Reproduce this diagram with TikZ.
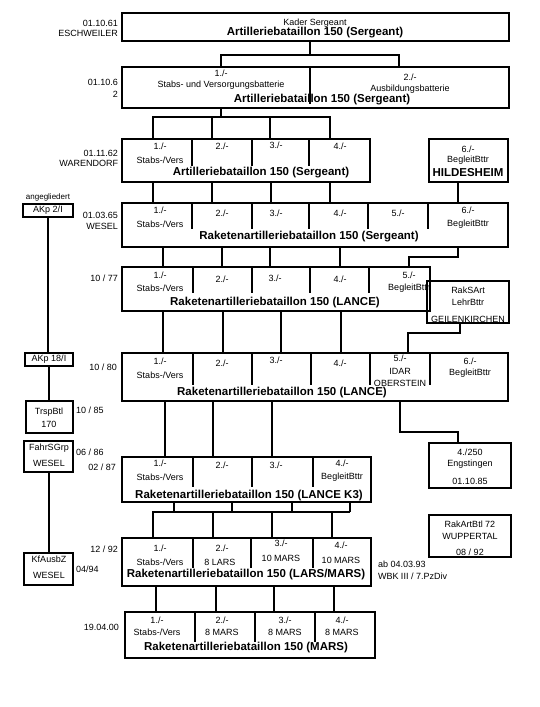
\documentclass[tikz,border=0pt]{standalone}
\usepackage{fontspec}
\setmainfont{Liberation Sans}
\begin{document}
\begin{tikzpicture}[x=1pt, y=-1pt, line width=2pt,
    box/.style={draw, line width=2pt, outer sep=0pt, inner sep=0pt, anchor=north west},
    lbl/.style={font=\fontsize{9}{10}\selectfont, inner sep=0pt},
    small/.style={font=\fontsize{8}{9}\selectfont, inner sep=0pt},
    ttl/.style={font=\fontsize{11.5}{12}\selectfont\bfseries, inner sep=0pt},
    rlbl/.style={lbl, anchor=east},
    llbl/.style={lbl, anchor=west}]
  \useasboundingbox (0,0) rectangle (540,707);
  %boxes
  \node[box, minimum width=387pt, minimum height=28pt] (b1) at (122,13) {};
  \node[box, minimum width=387pt, minimum height=41pt] (b2) at (122,67) {};
  \node[box, minimum width=248pt, minimum height=43pt] (b3) at (122,139) {};
  \node[box, minimum width=79pt, minimum height=43pt] (hild) at (429,139) {};
  \node[box, minimum width=386pt, minimum height=44pt] (b4) at (122,203) {};
  \node[box, minimum width=308pt, minimum height=44pt] (b5) at (122,267) {};
  \node[box, minimum width=82pt, minimum height=42pt] (rak) at (427,281) {};
  \node[box, minimum width=386pt, minimum height=48pt] (b6) at (122,353) {};
  \node[box, minimum width=249pt, minimum height=45pt] (b7) at (122,457) {};
  \node[box, minimum width=82pt, minimum height=45pt] (eng) at (429,443) {};
  \node[box, minimum width=249pt, minimum height=48pt] (b8) at (122,538) {};
  \node[box, minimum width=82pt, minimum height=42pt] (wup) at (429,515) {};
  \node[box, minimum width=250pt, minimum height=46pt] (b9) at (125,612) {};
  \node[box, minimum width=50pt, minimum height=13pt] (akpa) at (23,204) {};
  \node[box, minimum width=48pt, minimum height=13pt] (akpb) at (25,353) {};
  \node[box, minimum width=47pt, minimum height=32pt] (trsp) at (26,401) {};
  \node[box, minimum width=49pt, minimum height=31pt] (fahr) at (24,441) {};
  \node[box, minimum width=49pt, minimum height=32pt] (kf) at (24,553) {};
  %dividers
  \draw (310,0 |- b2.north) -- (310,104);
  \foreach \x in {192,252,309} \draw (\x,0 |- b3.north) -- (\x,166);
  \foreach \x in {192,252,309,368,428} \draw (\x,0 |- b4.north) -- (\x,229);
  \foreach \x in {193,252,310,369} \draw (\x,0 |- b5.north) -- (\x,293);
  \foreach \x in {193,252,311,370,430} \draw (\x,0 |- b6.north) -- (\x,385);
  \foreach \x in {193,252,313} \draw (\x,0 |- b7.north) -- (\x,487);
  \foreach \x in {193,251,313} \draw (\x,0 |- b8.north) -- (\x,568);
  \foreach \x in {195,255,315} \draw (\x,0 |- b9.north) -- (\x,642);
  %1961
  \node[lbl] (b1a) at (315,23) {Kader Sergeant};
  \node[ttl] (b1t) at (315,33) {Artilleriebataillon 150 (Sergeant)};
  \node[rlbl] (d1a) at (119,23) {01.10.61};
  \node[rlbl] (d1b) at (119,33) {ESCHWEILER};
  %1962
  \node[lbl] (b2a) at (221,73) {1./-};
  \node[lbl] (b2b) at (221,85) {Stabs- und Versorgungsbatterie};
  \node[lbl] (b2c) at (410,77) {2./-};
  \node[lbl] (b2d) at (410,89) {Ausbildungsbatterie};
  \node[ttl] (b2t) at (322,100) {Artilleriebataillon 150 (Sergeant)};
  \node[rlbl] (d2a) at (119,82) {01.10.6};
  \node[rlbl] (d2b) at (119,94) {2};
  %WARENDORF
  \node[lbl] (b3a) at (160,146) {1./-};
  \node[lbl] (b3b) at (160,160) {Stabs-/Vers};
  \node[lbl] (b3c) at (222,146) {2./-};
  \node[lbl] (b3d) at (276,145) {3./-};
  \node[lbl] (b3e) at (340,146) {4./-};
  \node[ttl] (b3t) at (261,173) {Artilleriebataillon 150 (Sergeant)};
  \node[rlbl] (d3a) at (119,153) {01.11.62};
  \node[rlbl] (d3b) at (119,163) {WARENDORF};
  \node[lbl] (hilda) at (468,149) {6./-};
  \node[lbl] (hildb) at (468,160) {BegleitBttr};
  \node[ttl] (hildt) at (468,173) {HILDESHEIM};
  %WESEL 1965
  \node[lbl] (b4a) at (160,210) {1./-};
  \node[lbl] (b4b) at (160,224) {Stabs-/Vers};
  \node[lbl] (b4c) at (222,213) {2./-};
  \node[lbl] (b4d) at (276,213) {3./-};
  \node[lbl] (b4e) at (340,213) {4./-};
  \node[lbl] (b4f) at (398,213) {5./-};
  \node[lbl] (b4g) at (468,210) {6./-};
  \node[lbl] (b4h) at (468,224) {BegleitBttr};
  \node[ttl] (b4t) at (309,237) {Raketenartilleriebataillon 150 (Sergeant)};
  \node[rlbl] (d4a) at (119,215) {01.03.65};
  \node[rlbl] (d4b) at (119,226) {WESEL};
  \node[small] (akpx) at (48,197) {angegliedert};
  \node[lbl] (akpat) at (48,210) {AKp 2/I};
  %LANCE 1977
  \node[lbl] (b5a) at (160,275) {1./-};
  \node[lbl] (b5b) at (160,288) {Stabs-/Vers};
  \node[lbl] (b5c) at (222,279) {2./-};
  \node[lbl] (b5d) at (275,278) {3./-};
  \node[lbl] (b5e) at (340,279) {4./-};
  \node[lbl] (b5f) at (409,275) {5./-};
  \node[lbl] (b5g) at (409,288) {BegleitBttr};
  \node[ttl] (b5t) at (275,303) {Raketenartilleriebataillon 150 (LANCE)};
  \node[rlbl] (d5a) at (119,278) {10 / 77};
  \node[lbl] (raka) at (468,290) {RakSArt};
  \node[lbl] (rakb) at (468,302) {LehrBttr};
  \node[lbl] (rakc) at (468,319) {GEILENKIRCHEN};
  %LANCE 1980
  \node[lbl] (b6a) at (160,361) {1./-};
  \node[lbl] (b6b) at (160,375) {Stabs-/Vers};
  \node[lbl] (b6c) at (222,363) {2./-};
  \node[lbl] (b6d) at (276,360) {3./-};
  \node[lbl] (b6e) at (340,363) {4./-};
  \node[lbl] (b6f) at (400,358) {5./-};
  \node[lbl] (b6g) at (400,371) {IDAR};
  \node[lbl] (b6h) at (400,383) {OBERSTEIN};
  \node[lbl] (b6i) at (470,361) {6./-};
  \node[lbl] (b6j) at (470,373) {BegleitBttr};
  \node[ttl] (b6t) at (282,393) {Raketenartilleriebataillon 150 (LANCE)};
  \node[rlbl] (d6a) at (118,367) {10 / 80};
  \node[lbl] (akpbt) at (49,359) {AKp 18/I};
  \node[lbl] (trspa) at (49,412) {TrspBtl};
  \node[lbl] (trspb) at (49,424) {170};
  \node[llbl] (trspd) at (75,410) {10 / 85};
  \node[lbl] (enga) at (470,452) {4./250};
  \node[lbl] (engb) at (470,464) {Engstingen};
  \node[lbl] (engc) at (470,481) {01.10.85};
  %LANCE K3
  \node[lbl] (fahra) at (49,448) {FahrSGrp};
  \node[lbl] (fahrb) at (49,463) {WESEL};
  \node[llbl] (fahrd) at (75,452) {06 / 86};
  \node[rlbl] (d7a) at (117,467) {02 / 87};
  \node[lbl] (b7a) at (160,463) {1./-};
  \node[lbl] (b7b) at (160,477) {Stabs-/Vers};
  \node[lbl] (b7c) at (222,465) {2./-};
  \node[lbl] (b7d) at (276,465) {3./-};
  \node[lbl] (b7e) at (342,463) {4./-};
  \node[lbl] (b7f) at (342,477) {BegleitBttr};
  \node[ttl] (b7t) at (249,496) {Raketenartilleriebataillon 150 (LANCE K3)};
  %LARS/MARS
  \node[lbl] (b8a) at (160,548) {1./-};
  \node[lbl] (b8b) at (160,562) {Stabs-/Vers};
  \node[lbl] (b8c) at (222,548) {2./-};
  \node[lbl] (b8d) at (220,562) {8 LARS};
  \node[lbl] (b8e) at (281,543) {3./-};
  \node[lbl] (b8f) at (281,558) {10 MARS};
  \node[lbl] (b8g) at (341,545) {4./-};
  \node[lbl] (b8h) at (341,560) {10 MARS};
  \node[ttl] (b8t) at (246,575) {Raketenartilleriebataillon 150 (LARS/MARS)};
  \node[rlbl] (d8a) at (119,549) {12 / 92};
  \node[llbl] (d8b) at (377,564) {ab 04.03.93};
  \node[llbl] (d8c) at (377,576) {WBK III / 7.PzDiv};
  \node[lbl] (kfa) at (49,559) {KfAusbZ};
  \node[lbl] (kfb) at (49,575) {WESEL};
  \node[llbl] (kfd) at (75,569) {04/94};
  \node[lbl] (wupa) at (470,524) {RakArtBtl 72};
  \node[lbl] (wupb) at (470,536) {WUPPERTAL};
  \node[lbl] (wupc) at (470,552) {08 / 92};
  %MARS
  \node[lbl] (b9a) at (157,620) {1./-};
  \node[lbl] (b9b) at (157,632) {Stabs-/Vers};
  \node[lbl] (b9c) at (222,620) {2./-};
  \node[lbl] (b9d) at (222,632) {8 MARS};
  \node[lbl] (b9e) at (285,620) {3./-};
  \node[lbl] (b9f) at (285,632) {8 MARS};
  \node[lbl] (b9g) at (342,620) {4./-};
  \node[lbl] (b9h) at (342,632) {8 MARS};
  \node[ttl] (b9t) at (246,648) {Raketenartilleriebataillon 150 (MARS)};
  \node[rlbl] (d9a) at (120,627) {19.04.00};
  %connectors
  \coordinate (s1) at (0,55);
  \draw (310,0 |- b1.south) -- (310,0 |- s1);
  \draw (221,0 |- b2.north) |- (399,0 |- s1) -- (399,0 |- b2.north);
  \coordinate (s2) at (0,117);
  \draw (221,0 |- b2.south) -- (221,0 |- s2);
  \draw (153,0 |- b3.north) |- (330,0 |- s2) -- (330,0 |- b3.north);
  \foreach \x in {212,270} \draw (\x,0 |- s2) -- (\x,0 |- b3.north);
  \foreach \x in {153,212,271,330} \draw (\x,0 |- b3.south) -- (\x,0 |- b4.north);
  \draw (458,0 |- hild.south) -- (458,0 |- b4.north);
  \foreach \x in {163,222,270,340} \draw (\x,0 |- b4.south) -- (\x,0 |- b5.north);
  \coordinate (s3) at (0,257);
  \draw (458,0 |- b4.south) |- (409,0 |- s3) -- (409,0 |- b5.north);
  \foreach \x in {163,223,281,341} \draw (\x,0 |- b5.south) -- (\x,0 |- b6.north);
  \coordinate (s4) at (0,333);
  \draw (460,0 |- rak.south) |- (408,0 |- s4) -- (408,0 |- b6.north);
  \foreach \x in {165,213,272} \draw (\x,0 |- b6.south) -- (\x,0 |- b7.north);
  \coordinate (s5) at (0,432);
  \draw (400,0 |- b6.south) |- (458,0 |- s5) -- (458,0 |- eng.north);
  \coordinate (s6) at (0,512);
  \foreach \x in {174,232,292,350} \draw (\x,0 |- b7.south) -- (\x,0 |- s6);
  \draw (153,0 |- b8.north) |- (350,0 |- s6);
  \foreach \x in {213,272,332} \draw (\x,0 |- s6) -- (\x,0 |- b8.north);
  \foreach \x in {156,216,274,334} \draw (\x,0 |- b8.south) -- (\x,0 |- b9.north);
  %left column
  \draw (48,0 |- akpa.south) -- (48,0 |- akpb.north);
  \draw (49,0 |- akpb.south) -- (49,0 |- trsp.north);
  \draw (49,0 |- fahr.south) -- (49,0 |- kf.north);
\end{tikzpicture}
\end{document}
